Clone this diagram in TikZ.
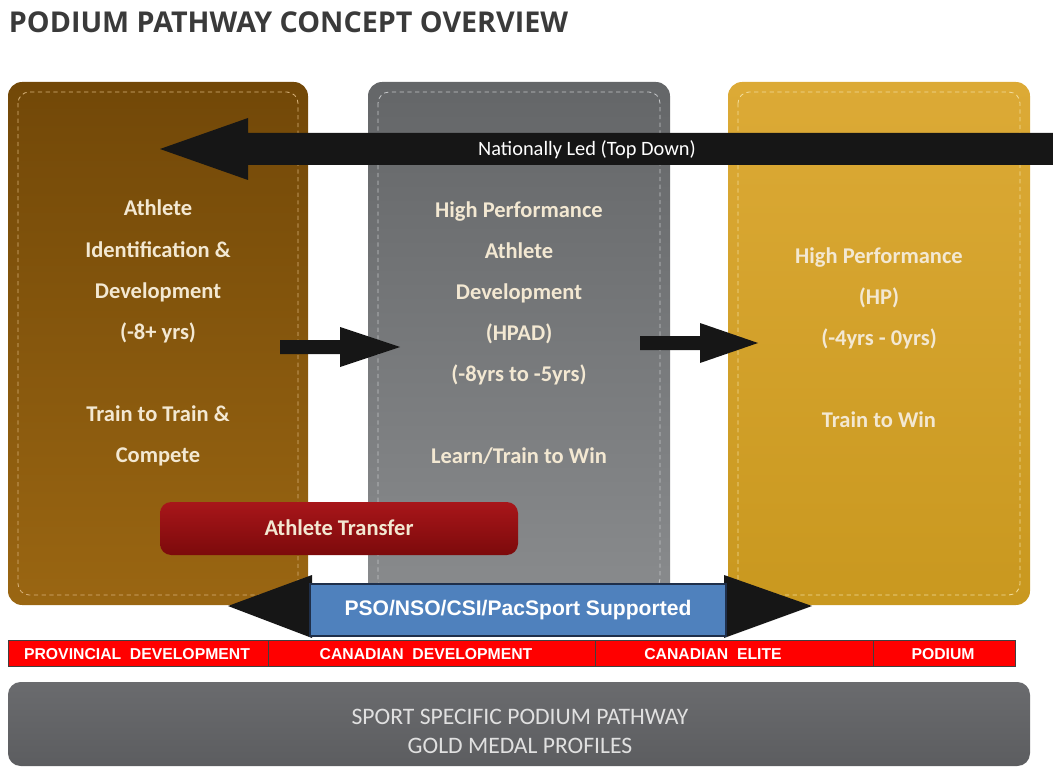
\documentclass[tikz,border=0pt]{standalone}
\usepackage{fontspec}
\setmainfont{Carlito}
\newfontfamily\titlefont{Open Sans}
\newfontfamily\arialfont{Liberation Sans}

\definecolor{titlegray}{HTML}{3A3A3A}
\definecolor{bronzetop}{HTML}{724808}
\definecolor{bronze}{HTML}{9A6612}
\definecolor{bronzestitch}{HTML}{D8B27A}
\definecolor{steeltop}{HTML}{646668}
\definecolor{steel}{HTML}{898B8D}
\definecolor{steelstitch}{HTML}{C4C6C8}
\definecolor{goldtop}{HTML}{DCAA36}
\definecolor{gold}{HTML}{C9981F}
\definecolor{goldstitch}{HTML}{F2DC9A}
\definecolor{cream}{HTML}{F3E8D2}
\definecolor{arrowblack}{HTML}{161616}
\definecolor{transfertop}{HTML}{A8161A}
\definecolor{transfer}{HTML}{7C0A0B}
\definecolor{pbblue}{HTML}{4F81BD}
\definecolor{navy}{HTML}{1F2F4A}
\definecolor{bandred}{HTML}{FF0000}
\definecolor{basetop}{HTML}{6A6B6E}
\definecolor{basemid}{HTML}{939496}
\definecolor{basebot}{HTML}{5C5D60}

\begin{document}
\begin{tikzpicture}[x=0.025cm, y=0.025cm,
    panel/.style={rounded corners=10pt},
    stitch/.style={rounded corners=8pt, dash pattern=on 3pt off 2.5pt, line width=0.6pt},
    paneltext/.style={text=cream, align=center, font=\bfseries\fontsize{16}{29.2}\selectfont},
    blockarrow/.style={fill=arrowblack},
    band/.style={draw=black!75, fill=bandred, line width=0.7pt},
    bandtext/.style={text=white, font=\arialfont\bfseries\fontsize{11.2}{13}\selectfont}]
  \useasboundingbox (0,0) rectangle (1053,-768);

  % title
  \node[anchor=west, text=titlegray, font=\titlefont\bfseries\fontsize{20.4}{24}\selectfont] (title) at (4,-22) {PODIUM PATHWAY CONCEPT OVERVIEW};

  % three stage panels
  \shade[panel, top color=bronzetop, bottom color=bronze] (8,-82) rectangle (308,-605);
  \draw[stitch, draw=bronzestitch] (18,-92) rectangle (298,-595);
  \shade[panel, top color=steeltop, bottom color=steel] (368,-82) rectangle (670,-600);
  \draw[stitch, draw=steelstitch] (378,-92) rectangle (660,-590);
  \shade[panel, top color=goldtop, bottom color=gold] (728,-82) rectangle (1030,-605);
  \draw[stitch, draw=goldstitch] (738,-92) rectangle (1020,-595);

  % top down arrow
  \fill[blockarrow] (1053,-133) -- (248,-133) -- (248,-118) -- (160,-149)
    -- (248,-180) -- (248,-165) -- (1053,-165) -- cycle;
  \node[text=white, font=\fontsize{14.5}{16}\selectfont] (national) at (587,-150) {Nationally Led (Top Down)};

  % panel texts
  \node[paneltext] (aid) at (158,-333) {Athlete\\Identification \&\\Development\\(-8+ yrs)\\ \\Train to Train \&\\Compete};
  \node[paneltext] (hpad) at (519,-333) {High Performance\\Athlete\\Development\\(HPAD)\\(-8yrs to -5yrs)\\ \\Learn/Train to Win};
  \node[paneltext] (hp) at (879,-338) {High Performance\\(HP)\\(-4yrs - 0yrs)\\ \\Train to Win};

  % stage arrows
  \fill[blockarrow] (280,-340) -- (340,-340) -- (340,-327) -- (400,-347)
    -- (340,-367) -- (340,-354) -- (280,-354) -- cycle;
  \fill[blockarrow] (640,-336) -- (700,-336) -- (700,-323) -- (758,-343)
    -- (700,-363) -- (700,-350) -- (640,-350) -- cycle;

  % athlete transfer
  \shade[rounded corners=8pt, top color=transfertop, bottom color=transfer] (160,-502) rectangle (518,-555);
  \node[text=cream, font=\bfseries\fontsize{16}{18}\selectfont] (transfer) at (339,-528) {Athlete Transfer};

  % supported label with side heads
  \fill[blockarrow] (312,-575) -- (228,-606) -- (312,-638) -- cycle;
  \fill[blockarrow] (724,-575) -- (812,-606) -- (724,-638) -- cycle;
  \node[draw=navy, fill=pbblue, line width=1pt, minimum width=10.4cm, minimum height=1.3cm,
    text=white, font=\arialfont\bfseries\fontsize{15}{17}\selectfont] (support) at (518,-610) {PSO/NSO/CSI/PacSport Supported};

  % red development band
  \draw[band] (8,-640) rectangle (268,-666);
  \draw[band] (268,-640) rectangle (595,-666);
  \draw[band] (595,-640) rectangle (873,-666);
  \draw[band] (873,-640) rectangle (1015,-666);
  \node[bandtext] (prov) at (137,-654) {PROVINCIAL\ \ DEVELOPMENT};
  \node[bandtext] (cdev) at (426,-654) {CANADIAN\ \ DEVELOPMENT};
  \node[bandtext] (elite) at (713,-654) {CANADIAN\ \ ELITE};
  \node[bandtext] (podium) at (943,-654) {PODIUM};

  % base bar
  \shade[rounded corners=9pt, top color=basetop, middle color=basemid, bottom color=basebot] (8,-682) rectangle (1030,-766);
  \node[text=black!12, align=center, font=\fontsize{16.8}{20.5}\selectfont] (profile) at (520,-731) {SPORT SPECIFIC PODIUM PATHWAY\\GOLD MEDAL PROFILES};
\end{tikzpicture}
\end{document}
